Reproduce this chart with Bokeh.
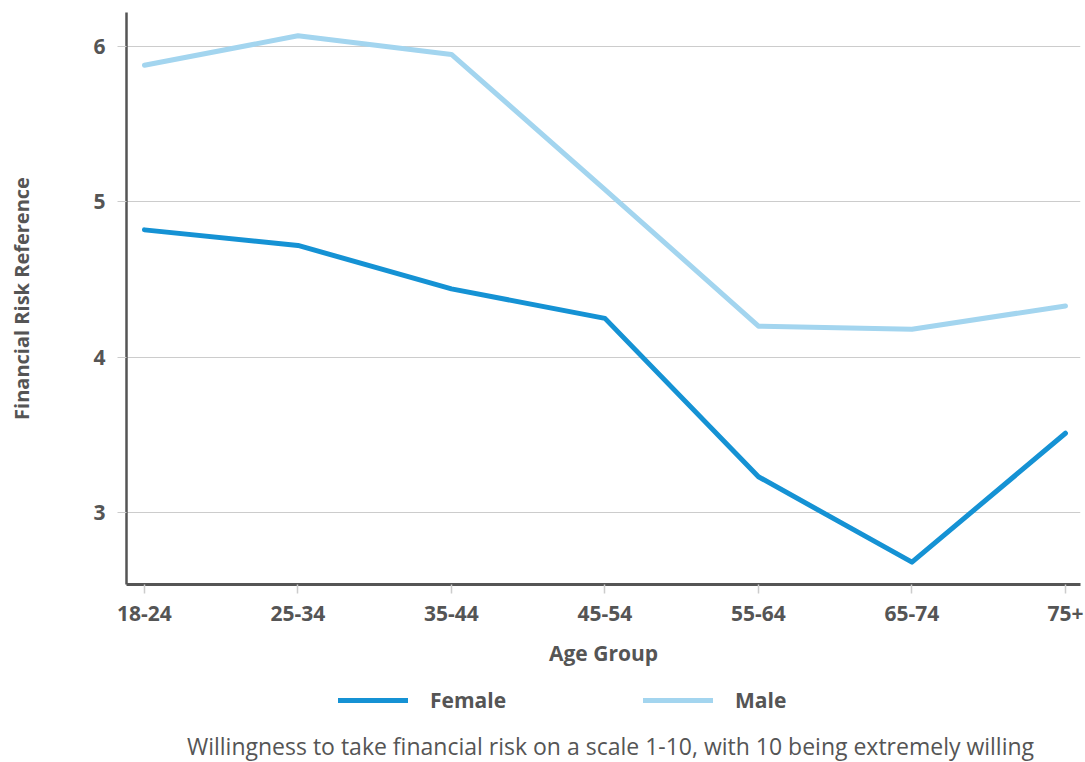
from bokeh.plotting import figure
from bokeh.layouts import column
from bokeh.models import Range1d, Legend, LegendItem, Label, FixedTicker
from bokeh.embed import file_html
from bokeh.resources import INLINE

categories = ["18-24", "25-34", "35-44", "45-54", "55-64", "65-74", "75+"]
female = [4.82, 4.72, 4.44, 4.25, 3.23, 2.68, 3.51]
male = [5.88, 6.07, 5.95, 5.08, 4.20, 4.18, 4.33]
y_ticks = [3, 4, 5, 6]

FONT = "Open Sans"
TXT = "#555555"
C_F = "#1592d4"
C_M = "#a3d5ef"
W = 1085
BL, BR = 126, 5
xs = list(range(len(categories)))

p = figure(width=W, height=674, output_backend="svg", toolbar_location=None,
           x_range=Range1d(-0.117, len(categories) - 1 + 0.098),
           y_range=Range1d(2.536, 6.22),
           min_border_left=BL, min_border_right=BR, min_border_top=12, min_border_bottom=90)
p.outline_line_color = None
p.xgrid.grid_line_color = None
p.ygrid.grid_line_color = "#cccccc"
p.ygrid.grid_line_width = 1

p.line(xs, female, line_color=C_F, line_width=5, line_cap="round", line_join="round")
p.line(xs, male, line_color=C_M, line_width=5, line_cap="round", line_join="round")

# x axis
p.xaxis.ticker = FixedTicker(ticks=xs)
p.xaxis.major_label_overrides = {i: c for i, c in enumerate(categories)}
p.xaxis.axis_line_color = "#555555"
p.xaxis.axis_line_width = 3
p.xaxis.major_tick_line_color = "#cccccc"
p.xaxis.major_tick_line_width = 1.5
p.xaxis.major_tick_out = 9
p.xaxis.major_tick_in = 0
p.xaxis.minor_tick_line_color = None
p.xaxis.major_label_text_font = FONT
p.xaxis.major_label_text_font_size = "21px"
p.xaxis.major_label_text_font_style = "bold"
p.xaxis.major_label_text_color = TXT
p.xaxis.major_label_standoff = 12
p.xaxis.axis_label = "Age Group"
p.xaxis.axis_label_text_font = FONT
p.xaxis.axis_label_text_font_size = "21px"
p.xaxis.axis_label_text_font_style = "bold"
p.xaxis.axis_label_text_color = TXT
p.xaxis.axis_label_standoff = 15

# y axis
p.yaxis.ticker = FixedTicker(ticks=y_ticks)
p.yaxis.axis_line_color = "#555555"
p.yaxis.axis_line_width = 2.5
p.yaxis.major_tick_line_color = "#cccccc"
p.yaxis.major_tick_line_width = 1
p.yaxis.major_tick_out = 9
p.yaxis.major_tick_in = 0
p.yaxis.minor_tick_line_color = None
p.yaxis.major_label_text_font = FONT
p.yaxis.major_label_text_font_size = "21px"
p.yaxis.major_label_text_font_style = "bold"
p.yaxis.major_label_text_color = TXT
p.yaxis.major_label_standoff = 12
p.yaxis.axis_label = "Financial Risk Reference"
p.yaxis.axis_label_text_font = FONT
p.yaxis.axis_label_text_font_size = "20px"
p.yaxis.axis_label_text_font_style = "bold"
p.yaxis.axis_label_text_color = TXT
p.yaxis.axis_label_standoff = 55

# legend + caption strip (x data units = page pixels)
H2 = 88
p2 = figure(width=W, height=H2, output_backend="svg", toolbar_location=None,
            x_range=Range1d(BL, W - BR), y_range=Range1d(0, H2),
            min_border_left=BL, min_border_right=BR, min_border_top=0, min_border_bottom=0,
            x_axis_location=None, y_axis_location=None)
p2.outline_line_color = None
p2.grid.grid_line_color = None
# legend proxies: same series, lying outside this strip's visible range
lf = p2.line(xs, female, line_color=C_F, line_width=5, line_cap="round")
lm = p2.line(xs, male, line_color=C_M, line_width=5, line_cap="round")
legend = Legend(items=[LegendItem(label="Female", renderers=[lf]),
                       LegendItem(label="Male", renderers=[lm])],
                orientation="horizontal", location=(212, 48),
                glyph_width=70, glyph_height=20, label_standoff=22, spacing=137,
                label_text_font=FONT, label_text_font_size="21px",
                label_text_font_style="bold", label_text_color=TXT,
                border_line_color=None, background_fill_alpha=0,
                padding=6, margin=0)
p2.add_layout(legend)
cap = Label(x=610, y=17,
            text="Willingness to take financial risk on a scale 1-10, with 10 being extremely willing",
            text_align="center", text_baseline="middle",
            text_font=FONT, text_font_size="23px", text_color=TXT)
p2.add_layout(cap)

layout = column(p, p2, spacing=0)
open("out.html", "w").write(file_html(layout, INLINE))
